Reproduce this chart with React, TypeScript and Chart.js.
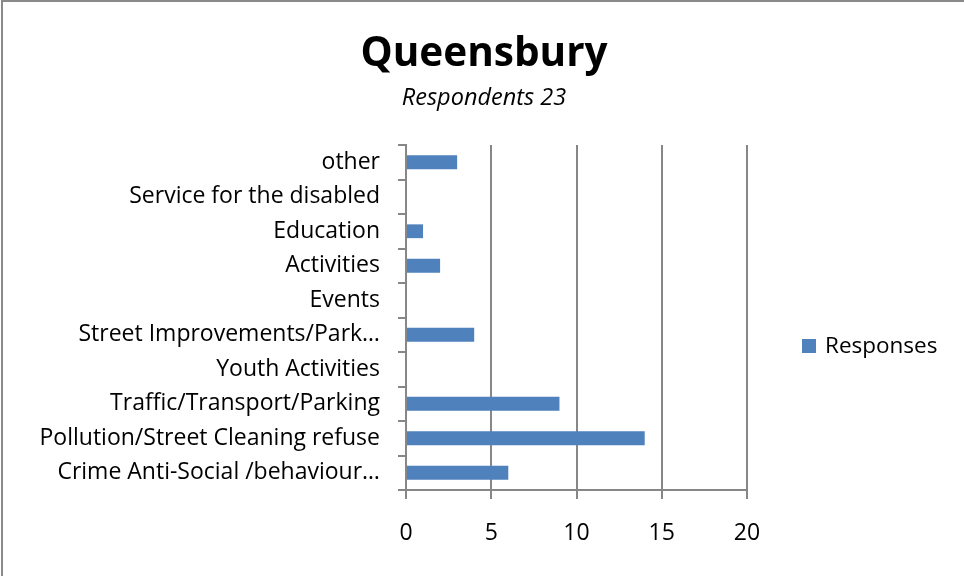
import React, { useEffect, useRef } from "react";
import { Chart, registerables } from "chart.js";

Chart.register(...registerables);

const titleText = "Queensbury";
const subtitleText = "Respondents 23";
const seriesName = "Responses";
const categories = [
  "other",
  "Service for the disabled",
  "Education",
  "Activities",
  "Events",
  "Street Improvements/Park…",
  "Youth Activities",
  "Traffic/Transport/Parking",
  "Pollution/Street Cleaning refuse",
  "Crime Anti-Social /behaviour…",
];
const responses = [3, 0, 1, 2, 0, 4, 0, 9, 14, 6];
const xTicks = [0, 5, 10, 15, 20];

const FONT = "'Open Sans', Lato, sans-serif";
const BAR = "#4F81BD";
const GRID = "#878787";

const decorPlugin = {
  id: "decor",
  beforeDraw(chart: any) {
    const ctx = chart.ctx;
    ctx.save();
    ctx.fillStyle = "#ffffff";
    ctx.fillRect(0, 0, chart.width, chart.height);
    ctx.strokeStyle = "#8a8a8a";
    ctx.lineWidth = 2;
    ctx.beginPath();
    ctx.moveTo(2, chart.height);
    ctx.lineTo(2, 1);
    ctx.lineTo(chart.width, 1);
    ctx.stroke();
    ctx.restore();
  },
  afterDraw(chart: any) {
    const ctx = chart.ctx;
    ctx.save();
    ctx.fillStyle = "#000000";
    ctx.textAlign = "center";
    ctx.textBaseline = "alphabetic";
    ctx.font = `bold 40.5px ${FONT}`;
    ctx.fillText(titleText, 484, 66);
    ctx.font = `italic 23.5px ${FONT}`;
    ctx.fillText(subtitleText, 484, 105);
    // legend
    ctx.fillStyle = BAR;
    ctx.fillRect(802, 339, 14, 14);
    ctx.fillStyle = "#000000";
    ctx.textAlign = "left";
    ctx.font = `22.5px ${FONT}`;
    ctx.fillText(seriesName, 825, 353);
    ctx.restore();
  },
};

export default function App() {
  const ref = useRef<HTMLCanvasElement | null>(null);
  useEffect(() => {
    if (!ref.current) return;
    const chart = new Chart(ref.current, {
      type: "bar",
      data: {
        labels: categories,
        datasets: [
          {
            label: seriesName,
            data: responses,
            backgroundColor: BAR,
            barPercentage: 0.4,
            categoryPercentage: 1,
          },
        ],
      },
      plugins: [decorPlugin],
      options: {
        indexAxis: "y",
        responsive: false,
        animation: false,
        layout: { padding: { top: 145, right: 217, bottom: 0, left: 0 } },
        plugins: {
          legend: { display: false },
          title: { display: false },
          tooltip: { enabled: false },
        },
        scales: {
          x: {
            type: "linear",
            min: 0,
            max: 20,
            afterBuildTicks: (axis: any) => {
              axis.ticks = xTicks.map((v) => ({ value: v }));
            },
            afterFit: (axis: any) => {
              axis.height = 86;
            },
            grid: {
              color: GRID,
              lineWidth: 2,
              tickLength: 9,
              drawOnChartArea: true,
            },
            border: { color: GRID, width: 2 },
            ticks: {
              color: "#000000",
              font: { family: FONT, size: 23 },
              padding: 21,
            },
          },
          y: {
            afterFit: (axis: any) => {
              axis.width = 406;
            },
            grid: {
              color: GRID,
              lineWidth: 2,
              tickLength: 8,
              drawOnChartArea: false,
              offset: true,
            },
            border: { color: GRID, width: 2 },
            ticks: {
              color: "#000000",
              font: { family: FONT, size: 23 },
              padding: 18,
              autoSkip: false,
            },
          },
        },
      },
    } as any);
    return () => chart.destroy();
  }, []);
  return (
    <div style={{ position: "absolute", left: 0, top: 0, width: 964, height: 576 }}>
      <canvas ref={ref} width={964} height={576} />
    </div>
  );
}
